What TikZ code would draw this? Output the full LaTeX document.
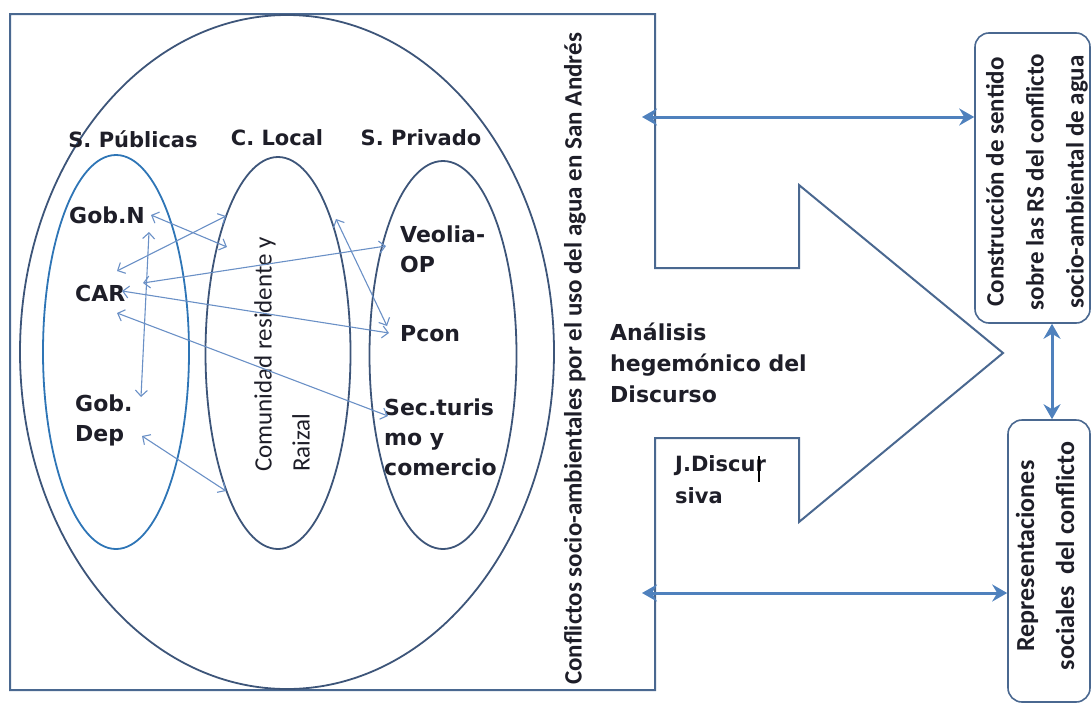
\documentclass[tikz,border=0pt]{standalone}
\usepackage{fontspec}
\setmainfont{DejaVu Sans}
\newfontfamily\carl{Carlito}
\usetikzlibrary{shapes.geometric,arrows.meta}
\definecolor{outl}{HTML}{4A6890}
\definecolor{ell}{HTML}{3D5579}
\definecolor{ellb}{HTML}{2E75B6}
\definecolor{thinb}{HTML}{6A90C6}
\definecolor{thickb}{HTML}{4F81BD}
\definecolor{txt}{HTML}{1E1E28}
\begin{document}
\begin{tikzpicture}[x=1pt,y=-1pt,
 lbl/.style={font=\bfseries\fontsize{22}{30}\selectfont, text=txt, inner sep=0, align=left, anchor=west},
 head/.style={font=\bfseries\fontsize{21}{25}\selectfont, text=txt, inner sep=0},
 ov/.style={draw=ell, line width=1.8pt, ellipse, inner sep=0},
 rel/.style={draw=thinb, line width=1.1pt, {Straight Barb[length=6pt,width=12pt]}-{Straight Barb[length=6pt,width=12pt]}},
 big/.style={draw=thickb, line width=3pt, {Stealth[length=15pt,width=17pt,inset=5pt]}-{Stealth[length=15pt,width=17pt,inset=5pt]}},
 rbox/.style={draw=outl, line width=1.6pt, rounded corners=14pt, inner sep=0},
 vtext/.style={rotate=90, text=txt, inner sep=0, align=center},
]
\useasboundingbox (0,0) rectangle (1091,704);

% outer frame merged with the big arrow
\draw[outl, line width=2pt] (10,14) -- (655,14) -- (655,268) -- (799,268) -- (799,185)
  -- (1003,353) -- (799,522) -- (799,438) -- (655,438) -- (655,690) -- (10,690) -- cycle;

% ellipses
\node[ov, minimum width=534pt, minimum height=674pt] (big) at (287,352) {};
\node[ov, draw=ellb, minimum width=146pt, minimum height=394pt] (e1) at (116,352) {};
\node[ov, minimum width=145pt, minimum height=392pt] (e2) at (278,353) {};
\node[ov, minimum width=147pt, minimum height=388pt] (e3) at (443,355) {};

% headings
\node[head] (hpub) at (133,139) {S. Públicas};
\node[head] (hloc) at (277,138) {C. Local};
\node[head] (hpri) at (421,138) {S. Privado};

% actors
\node[lbl] (gobn) at (69,215) {Gob.N};
\node[lbl] (car) at (75,293) {CAR};
\node[lbl] (gobd) at (75,420) {Gob.\\Dep};
\node[lbl] (veo) at (400,249) {Veolia-\\OP};
\node[lbl] (pcon) at (400,334) {Pcon};
\node[lbl] (sec) at (384,437) {Sec.turis\\mo y\\comercio};
\node[vtext, anchor=west, align=left, font=\carl\fontsize{25}{38}\selectfont] (com) at (282,472) {Comunidad residente y\\Raizal};

% main vertical title
\node[vtext, font=\carl\bfseries\fontsize{25}{30}\selectfont] (conf) at (575,359) {Conflictos socio-ambientales por el uso del agua en San Andrés};

% analysis labels
\node[lbl, anchor=north west, font=\bfseries\fontsize{22}{31}\selectfont] (ana) at (610,323) {Análisis\\hegemónico del\\Discurso};
\node[lbl, anchor=north west, font=\bfseries\fontsize{21}{32}\selectfont] (jd) at (675,455) {J.Discur\\siva};
\coordinate (curA) at (759,456);
\coordinate (curB) at (759,482);
\draw[black, line width=2pt] (curA) -- (curB);

% right boxes
\node[rbox, minimum width=115pt, minimum height=290pt] (b1) at (1032.5,178) {};
\node[rbox, minimum width=82pt, minimum height=282pt] (b2) at (1049,561) {};
\node[vtext, font=\carl\bfseries\fontsize{25}{40}\selectfont] (t1) at (1037,182) {Construcción de sentido\\sobre las RS del conflicto\\socio-ambiental de agua};
\node[vtext, font=\carl\bfseries\fontsize{26}{40}\selectfont] (t2) at (1045,556) {Representaciones\\sociales\ \ del conflicto};

% thick arrows
\coordinate (lt) at (642,117);
\coordinate (lb) at (642,593);
\draw[big] (lt) -- (lt -| b1.west);
\draw[big] (lb) -- (lb -| b2.west);
\draw[big] (b1.south -| 1052,0) -- (b2.north -| 1052,0);

% thin relation arrows
\coordinate (p1a) at (151,215); \coordinate (p1b) at (227,247);
\coordinate (p2a) at (226,216); \coordinate (p2b) at (117,271);
\coordinate (p3a) at (149,232); \coordinate (p3b) at (141,397);
\coordinate (p4a) at (386,246); \coordinate (p4b) at (143,283);
\coordinate (p5a) at (122,291); \coordinate (p5b) at (389,333);
\coordinate (p6a) at (336,219); \coordinate (p6b) at (387,326);
\coordinate (p7a) at (117,313); \coordinate (p7b) at (388,416);
\coordinate (p8a) at (142,436); \coordinate (p8b) at (226,491);
\draw[rel] (p1a) -- (p1b);
\draw[rel] (p2a) -- (p2b);
\draw[rel] (p3a) -- (p3b);
\draw[rel] (p4a) -- (p4b);
\draw[rel] (p5a) -- (p5b);
\draw[rel] (p6a) -- (p6b);
\draw[rel] (p7a) -- (p7b);
\draw[rel] (p8a) -- (p8b);
\end{tikzpicture}
\end{document}
